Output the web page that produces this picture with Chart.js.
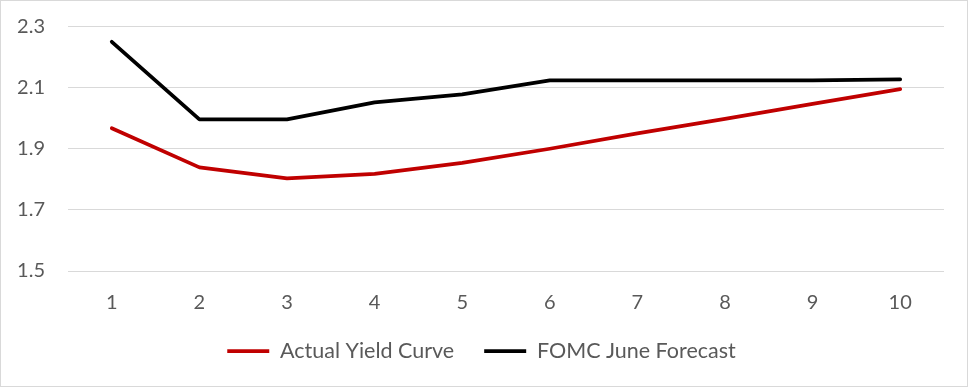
<!DOCTYPE html>
<html>
<head>
<meta charset="utf-8">
<script src="https://cdn.jsdelivr.net/npm/chart.js@4/dist/chart.umd.min.js"></script>
<style>
    html, body { margin: 0; padding: 0; background: #fff; }
    #wrap {
        width: 968px; height: 387px;
        box-sizing: border-box;
        border: 1px solid #d9d9d9;
    }
    #yield-chart { display: block; }
</style>
</head>
<body>
<div id="wrap"><canvas id="yield-chart" width="966" height="385"></canvas></div>
<script>
// --- DONNÉES ---
const maturities = ['1', '2', '3', '4', '5', '6', '7', '8', '9', '10'];
const actualCurve = [1.967, 1.839, 1.803, 1.818, 1.854, 1.900, 1.950, 1.998, 2.047, 2.095];
const fomcForecast = [2.25, 1.996, 1.996, 2.052, 2.078, 2.124, 2.124, 2.124, 2.124, 2.127];
const yTicks = [1.5, 1.7, 1.9, 2.1, 2.3];

const textColor = '#595959';
const gridColor = '#d9d9d9';

// Légende : le padding sert d'écart horizontal entre les entrées,
// on corrige donc sa hauteur et sa position à la main
const legendLayoutPlugin = {
    id: 'legendLayout',
    beforeLayout(chart) {
        const lg = chart.legend;
        if (lg && !lg._fixedFit) {
            const fit = lg.fit;
            lg.fit = function() {
                fit.call(this);
                this.height = 70;
            };
            lg._fixedFit = true;
        }
    },
    afterLayout(chart) {
        const lg = chart.legend;
        if (!lg) return;
        lg.top = 309.25;
        lg.left += 9;
        lg.right += 9;
    }
};

document.addEventListener('DOMContentLoaded', function() {
    const ctx = document.getElementById('yield-chart').getContext('2d');

    new Chart(ctx, {
        type: 'line',
        data: {
            labels: maturities,
            datasets: [{
                label: 'Actual Yield Curve',
                data: actualCurve,
                borderColor: '#c00000',
                backgroundColor: '#c00000',
                borderWidth: 3.75,
                borderCapStyle: 'round',
                borderJoinStyle: 'round',
                pointRadius: 0,
                tension: 0
            }, {
                label: 'FOMC June Forecast',
                data: fomcForecast,
                borderColor: '#000000',
                backgroundColor: '#000000',
                borderWidth: 3.75,
                borderCapStyle: 'round',
                borderJoinStyle: 'round',
                pointRadius: 0,
                tension: 0
            }]
        },
        options: {
            responsive: false,
            animation: false,
            layout: {
                padding: { top: 25.5, right: 23, bottom: 0, left: 0 }
            },
            scales: {
                x: {
                    offset: true,
                    afterFit: function(scale) {
                        scale.height = 45;
                    },
                    grid: { display: false, drawTicks: false },
                    border: { display: false },
                    ticks: {
                        color: textColor,
                        padding: 20,
                        font: { family: 'Lato', size: 20 }
                    }
                },
                y: {
                    min: 1.5,
                    max: 2.3,
                    afterBuildTicks: function(scale) {
                        scale.ticks = yTicks.map(v => ({ value: v }));
                    },
                    afterFit: function(scale) {
                        scale.width = 67; // aligner le bord gauche du tracé
                        scale.paddingTop = 0;
                        scale.paddingBottom = 0;
                    },
                    grid: { color: gridColor, lineWidth: 1, drawTicks: false },
                    border: { display: false },
                    ticks: {
                        color: textColor,
                        padding: 23,
                        font: { family: 'Lato', size: 20 },
                        callback: v => v.toFixed(1)
                    }
                }
            },
            plugins: {
                tooltip: { enabled: false },
                legend: {
                    position: 'bottom',
                    labels: {
                        usePointStyle: true,
                        pointStyle: 'line',
                        pointStyleWidth: 42,
                        color: textColor,
                        padding: 30,
                        font: { family: 'Lato', size: 21.5 }
                    }
                }
            }
        },
        plugins: [legendLayoutPlugin]
    });
});
</script>
</body>
</html>
